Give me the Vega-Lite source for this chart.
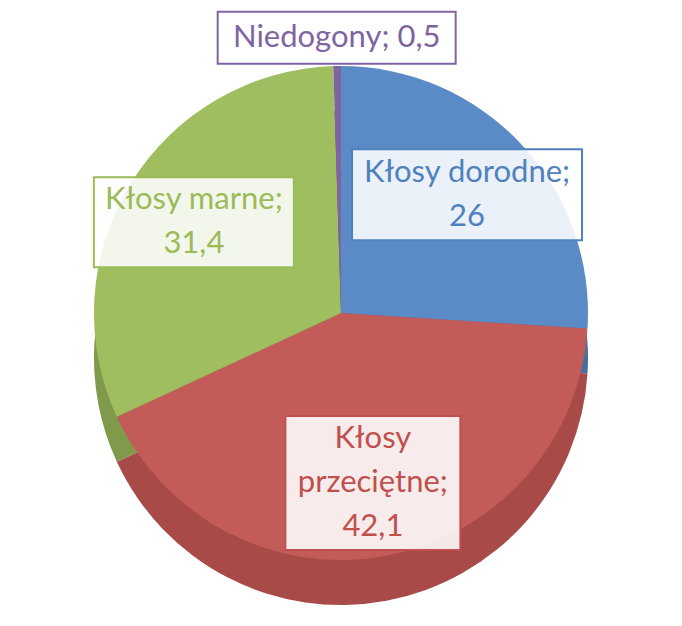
{
  "$schema": "https://vega.github.io/schema/vega-lite/v6.json",
  "width": 682,
  "height": 626,
  "autosize": {"type": "fit", "contains": "padding"},
  "padding": 0,
  "background": "#ffffff",
  "config": {"view": {"stroke": null}},
  "data": {
    "values": [
      {"idx": 1, "category": "Kłosy dorodne", "value": 26, "label": "Kłosy dorodne;\n26"},
      {"idx": 2, "category": "Kłosy przeciętne", "value": 42.1, "label": "Kłosy\nprzeciętne;\n42,1"},
      {"idx": 3, "category": "Kłosy marne", "value": 31.4, "label": "Kłosy marne;\n31,4"},
      {"idx": 4, "category": "Niedogony", "value": 0.5, "label": "Niedogony; 0,5"}
    ]
  },
  "transform": [
    {"stack": "value", "groupby": [], "sort": [{"field": "idx", "order": "ascending"}], "as": ["v0", "v1"]},
    {"calculate": "PI * (datum.v0 + datum.v1) / 100", "as": "a"},
    {"calculate": "datum.category === 'Niedogony' ? 1.115 : 0.7", "as": "k"},
    {"calculate": "datum.k * sin(datum.a)", "as": "lx"},
    {"calculate": "datum.k * cos(datum.a)", "as": "ly"}
  ],
  "layer": [
    {
      "mark": {"type": "arc", "radius": 247, "y": {"expr": "height / 2 + 45"}},
      "encoding": {
        "theta": {"field": "v0", "type": "quantitative", "scale": {"domain": [0, 100]}},
        "theta2": {"field": "v1"},
        "fill": {
          "field": "category", "type": "nominal", "legend": null,
          "scale": {"domain": ["Kłosy dorodne", "Kłosy przeciętne", "Kłosy marne", "Niedogony"],
                    "range": ["#46719f", "#a84a47", "#7f9a4a", "#654d82"]}
        }
      }
    },
    {
      "mark": {"type": "arc", "radius": 247},
      "encoding": {
        "theta": {"field": "v0", "type": "quantitative", "scale": {"domain": [0, 100]}},
        "theta2": {"field": "v1"},
        "fill": {
          "field": "category", "type": "nominal", "legend": null,
          "scale": {"domain": ["Kłosy dorodne", "Kłosy przeciętne", "Kłosy marne", "Niedogony"],
                    "range": ["#5b8bc6", "#c35b58", "#9fbe5f", "#8064a2"]}
        }
      }
    },
    {
      "mark": {"type": "point", "filled": false, "size": 10000, "fill": "#ffffff", "fillOpacity": 0.88, "strokeWidth": 2, "opacity": 1},
      "encoding": {
        "x": {"field": "lx", "type": "quantitative", "axis": null, "scale": {"domain": [-1.38057, 1.38057], "nice": false, "zero": false}},
        "y": {"field": "ly", "type": "quantitative", "axis": null, "scale": {"domain": [-1.26721, 1.26721], "nice": false, "zero": false}},
        "shape": {
          "field": "category", "type": "nominal", "legend": null,
          "scale": {"domain": ["Kłosy dorodne", "Kłosy przeciętne", "Kłosy marne", "Niedogony"],
                    "range": ["M-2.3,-0.91H2.3V0.91H-2.3Z", "M-1.75,-1.34H1.75V1.34H-1.75Z", "M-2.0,-0.9H2.0V0.9H-2.0Z", "M-2.38,-0.52H2.38V0.52H-2.38Z"]}
        },
        "stroke": {
          "field": "category", "type": "nominal", "legend": null,
          "scale": {"domain": ["Kłosy dorodne", "Kłosy przeciętne", "Kłosy marne", "Niedogony"],
                    "range": ["#4f81bd", "#c0504d", "#9bbb59", "#8064a2"]}
        }
      }
    },
    {
      "mark": {"type": "text", "font": "Lato", "fontSize": 31, "lineBreak": "\n", "lineHeight": 44, "align": "center", "baseline": "middle",
               "dy": {"expr": "-(length(split(datum.label, '\\n')) - 1) * 22"}},
      "encoding": {
        "x": {"field": "lx", "type": "quantitative", "axis": null, "scale": {"domain": [-1.38057, 1.38057], "nice": false, "zero": false}},
        "y": {"field": "ly", "type": "quantitative", "axis": null, "scale": {"domain": [-1.26721, 1.26721], "nice": false, "zero": false}},
        "text": {"field": "label"},
        "color": {
          "field": "category", "type": "nominal", "legend": null,
          "scale": {"domain": ["Kłosy dorodne", "Kłosy przeciętne", "Kłosy marne", "Niedogony"],
                    "range": ["#4f81bd", "#c0504d", "#9bbb59", "#8064a2"]}
        }
      }
    }
  ],
  "resolve": {"scale": {"fill": "independent"}}
}
